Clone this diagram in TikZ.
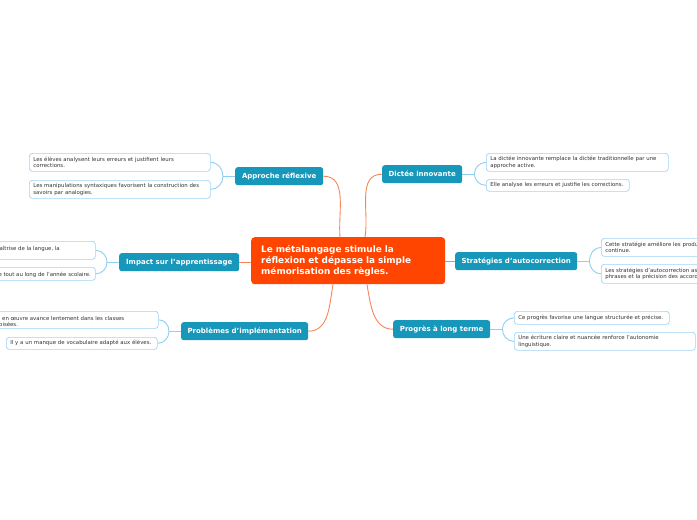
\documentclass[tikz,border=0pt]{standalone}
\usepackage{fontspec}
\setmainfont{DejaVu Sans}
\usetikzlibrary{calc}
\definecolor{centralc}{HTML}{FF4500}
\definecolor{topicc}{HTML}{1797BA}
\definecolor{leafc}{HTML}{9FD4F5}
\definecolor{linkb}{HTML}{8ECFF2}
\definecolor{linko}{HTML}{F5865A}
\definecolor{textc}{HTML}{333333}
\tikzset{
  leafbox/.style={draw=leafc, fill=white, line width=0.7pt, rounded corners=3pt, anchor=north west, align=left, inner xsep=4pt, inner ysep=0pt, font=\fontsize{5.4}{6.6}\selectfont, text=textc, text width=#1},
  plainbox/.style={draw=leafc, fill=white, line width=0.7pt, rounded corners=3pt, anchor=north west, inner sep=0pt},
  leaftext/.style={inner sep=0pt, font=\fontsize{5.4}{6.6}\selectfont, text=textc},
  topic/.style={fill=topicc, rounded corners=2.5pt, anchor=north west, text=white, font=\bfseries\fontsize{7}{8}\selectfont, inner sep=0pt, minimum height=18pt},
  centralbox/.style={fill=centralc, rounded corners=3.5pt, anchor=north west, text=white, font=\bfseries\fontsize{8.9}{11}\selectfont, align=left, inner xsep=10pt, inner ysep=0pt, minimum height=47pt, text width=174pt},
  blink/.style={draw=linkb, line width=0.9pt},
  olink/.style={draw=linko, line width=0.9pt},
}
\begin{document}
\begin{tikzpicture}[x=1pt,y=1pt]
\useasboundingbox (0,0) rectangle (697,-520);
\fill[white] (0,0) rectangle (697,-520);

% central
\node[centralbox] (c) at (251,-237) {Le métalangage stimule la\\réflexion et dépasse la simple\\mémorisation des règles.};

% topics
\node[topic, minimum width=88pt] (ap) at (235,-167) {Approche réflexive};
\node[topic, minimum width=80pt] (di) at (382,-165) {Dictée innovante};
\node[topic, minimum width=120pt] (im) at (119,-253) {Impact sur l'apprentissage};
\node[topic, minimum width=122pt] (st) at (455,-252) {Stratégies d'autocorrection};
\node[topic, minimum width=127pt] (pb) at (181,-322) {Problèmes d'implémentation};
\node[topic, minimum width=97pt] (pg) at (393,-320) {Progrès à long terme};

% central links
\draw[olink] (ap.east) to[out=0,in=95] ([xshift=89pt]c.north west);
\draw[olink] (di.west) to[out=180,in=80] ([xshift=114pt]c.north west);
\draw[olink] (pb.east) to[out=0,in=-100] ([xshift=82pt]c.south west);
\draw[olink] (pg.west) to[out=180,in=-80] ([xshift=116pt]c.south west);
\draw[olink] (im.east) -- (im.east -| c.west);
\draw[olink] (c.east |- st.west) -- (st.west);

% Approche leaves
\node[leafbox=173pt, minimum height=18pt] (a1) at (29,-153) {Les élèves analysent leurs erreurs et justifient leurs\\corrections.};
\node[leafbox=173pt, minimum height=18pt] (a2) at (29,-180) {Les manipulations syntaxiques favorisent la construction des\\savoirs par analogies.};
\coordinate (ja) at ([xshift=-12pt]ap.west);
\draw[blink] (ap.west) -- (ja);
\draw[blink] (ja) to[out=90,in=0] (a1.east);
\draw[blink] (ja) to[out=-90,in=0] (a2.east);

% Dictee leaves
\node[leafbox=174pt, minimum height=18pt] (d1) at (486,-153) {La dictée innovante remplace la dictée traditionnelle par une\\approche active.};
\node[leafbox=135pt, minimum height=12pt] (d2) at (486,-179) {Elle analyse les erreurs et justifie les corrections.};
\coordinate (jd) at ([xshift=12pt]di.east);
\draw[blink] (di.east) -- (jd);
\draw[blink] (jd) to[out=90,in=180] (d1.west);
\draw[blink] (jd) to[out=-90,in=180] (d2.west);

% Impact leaves (cut at left edge)
\node[plainbox, minimum width=155pt, minimum height=18pt] (i1) at (-60,-241) {};
\node[plainbox, minimum width=155pt, minimum height=13pt] (i2) at (-60,-267) {};
\node[leaftext, anchor=mid east] (i1t) at (60,-247.7) {maîtrise de la langue, la};
\node[leaftext, anchor=mid east] (i2t) at (91,-273.5) {e tout au long de l'année scolaire.};
\coordinate (ji) at ([xshift=-12pt]im.west);
\draw[blink] (im.west) -- (ji);
\draw[blink] (ji) to[out=90,in=0] (i1.east);
\draw[blink] (ji) to[out=-90,in=0] (i2.east);

% Strategies leaves (cut at right edge, as in the reference)
\node[leafbox=200pt, minimum height=18pt] (s1) at (601,-238) {Cette stratégie améliore les produ\\continue.};
\node[leafbox=200pt, minimum height=19pt] (s2) at (601,-264) {Les stratégies d'autocorrection as\\phrases et la précision des accord};
\coordinate (js) at ([xshift=12pt]st.east);
\draw[blink] (st.east) -- (js);
\draw[blink] (js) to[out=90,in=180] (s1.west);
\draw[blink] (js) to[out=-90,in=180] (s2.west);

% Problemes leaves
\node[plainbox, minimum width=218pt, minimum height=17pt] (p1) at (-60,-311) {};
\node[leaftext, anchor=mid west] (p1a) at (2,-317.5) {en œuvre avance lentement dans les classes};
\node[leaftext, anchor=mid west] (p1b) at (-1,-323.7) {oisées.};
\node[leafbox=143pt, minimum height=12pt] (p2) at (6,-337) {Il y a un manque de vocabulaire adapté aux élèves.};
\coordinate (jp) at ([xshift=-12pt]pb.west);
\draw[blink] (pb.west) -- (jp);
\draw[blink] (jp) to[out=90,in=0] (p1.east);
\draw[blink] (jp) to[out=-90,in=0] (p2.east);

% Progres leaves
\node[leafbox=147pt, minimum height=13pt] (g1) at (514,-311) {Ce progrès favorise une langue structurée et précise.};
\node[leafbox=173pt, minimum height=18pt] (g2) at (514,-332) {Une écriture claire et nuancée renforce l'autonomie\\linguistique.};
\coordinate (jg) at ([xshift=12pt]pg.east);
\draw[blink] (pg.east) -- (jg);
\draw[blink] (jg) to[out=90,in=180] (g1.west);
\draw[blink] (jg) to[out=-90,in=180] (g2.west);
\end{tikzpicture}
\end{document}
